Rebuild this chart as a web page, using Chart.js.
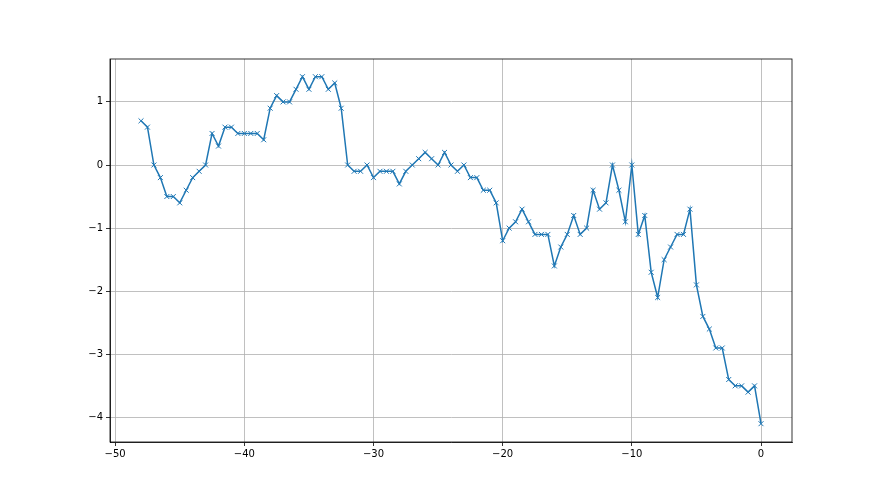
<!DOCTYPE html>
<html><head><meta charset="utf-8">
<script src="https://cdn.jsdelivr.net/npm/chart.js@4/dist/chart.umd.min.js"></script>
<style>html,body{margin:0;padding:0;background:#fff}#wrap{width:880px;height:495px}</style>
</head><body><div id="wrap"><canvas id="c" width="880" height="495"></canvas></div>
<script>
const xValues = [-48,-47.5,-47,-46.5,-46,-45.5,-45,-44.5,-44,-43.5,-43,-42.5,-42,-41.5,-41,-40.5,-40,-39.5,-39,-38.5,
-38,-37.5,-37,-36.5,-36,-35.5,-35,-34.5,-34,-33.5,-33,-32.5,-32,-31.5,-31,-30.5,-30,-29.5,-29,-28.5,
-28,-27.5,-27,-26.5,-26,-25.5,-25,-24.5,-24,-23.5,-23,-22.5,-22,-21.5,-21,-20.5,-20,-19.5,-19,-18.5,
-18,-17.5,-17,-16.5,-16,-15.5,-15,-14.5,-14,-13.5,-13,-12.5,-12,-11.5,-11,-10.5,-10,-9.5,-9,-8.5,
-8,-7.5,-7,-6.5,-6,-5.5,-5,-4.5,-4,-3.5,-3,-2.5,-2,-1.5,-1,-0.5,0];
const yValues = [0.7,0.6,0.0,-0.2,-0.5,-0.5,-0.6,-0.4,-0.2,-0.1,0.0,0.5,0.3,0.6,0.6,0.5,0.5,0.5,0.5,0.4,
0.9,1.1,1.0,1.0,1.2,1.4,1.2,1.4,1.4,1.2,1.3,0.9,0.0,-0.1,-0.1,0.0,-0.2,-0.1,-0.1,-0.1,
-0.3,-0.1,0.0,0.1,0.2,0.1,0.0,0.2,0.0,-0.1,0.0,-0.2,-0.2,-0.4,-0.4,-0.6,-1.2,-1.0,-0.9,-0.7,
-0.9,-1.1,-1.1,-1.1,-1.6,-1.3,-1.1,-0.8,-1.1,-1.0,-0.4,-0.7,-0.6,0.0,-0.4,-0.9,0.0,-1.1,-0.8,-1.7,
-2.1,-1.5,-1.3,-1.1,-1.1,-0.7,-1.9,-2.4,-2.6,-2.9,-2.9,-3.4,-3.5,-3.5,-3.6,-3.5,-4.1];
const xTicks = [-50,-40,-30,-20,-10,0];
const yTicks = [-4,-3,-2,-1,0,1];
const xRange = [-50.4, 2.4];
const yRange = [-4.39, 1.68];

const points = xValues.map((x, i) => ({x: x, y: yValues[i]}));
const fmt = v => String(v).replace('-', '\u2212');

const framePlugin = {
  id: 'frame',
  afterDatasetsDraw(chart) {
    const a = chart.chartArea, ctx = chart.ctx;
    ctx.save();
    ctx.strokeStyle = '#000';
    ctx.lineWidth = 0.8;
    ctx.strokeRect(a.left, a.top, a.right - a.left, a.bottom - a.top);
    ctx.restore();
  }
};

const tickFont = {family: 'DejaVu Sans', size: 10};

new Chart(document.getElementById('c'), {
  type: 'line',
  data: {
    datasets: [{
      data: points,
      borderColor: '#1f77b4',
      borderWidth: 1.5,
      tension: 0,
      fill: false,
      pointStyle: 'crossRot',
      pointRadius: 3.5,
      pointBorderWidth: 1,
      pointBorderColor: '#1f77b4',
      pointBackgroundColor: '#1f77b4',
      pointHoverRadius: 3.5
    }]
  },
  options: {
    responsive: false,
    animation: false,
    devicePixelRatio: 1,
    layout: {padding: {left: 70, right: 88, top: 59, bottom: 23}},
    plugins: {legend: {display: false}, tooltip: {enabled: false}},
    events: [],
    scales: {
      x: {
        type: 'linear',
        min: xRange[0], max: xRange[1],
        afterBuildTicks: s => { s.ticks = xTicks.map(v => ({value: v})); },
        afterFit: s => { s.height = 30; },
        grid: {color: '#b0b0b0', lineWidth: 0.8, tickColor: '#000', tickLength: 4, drawTicks: true},
        border: {display: true, color: '#000', width: 0.8},
        ticks: {font: tickFont, color: '#000', padding: 2, maxRotation: 0, callback: v => fmt(v)}
      },
      y: {
        type: 'linear',
        min: yRange[0], max: yRange[1],
        afterBuildTicks: s => { s.ticks = yTicks.map(v => ({value: v})); },
        afterFit: s => { s.width = 40; },
        grid: {color: '#b0b0b0', lineWidth: 0.8, tickColor: '#000', tickLength: 4, drawTicks: true},
        border: {display: true, color: '#000', width: 0.8},
        ticks: {font: tickFont, color: '#000', padding: 3, callback: v => fmt(v)}
      }
    }
  },
  plugins: [framePlugin]
});
</script>
</body></html>
